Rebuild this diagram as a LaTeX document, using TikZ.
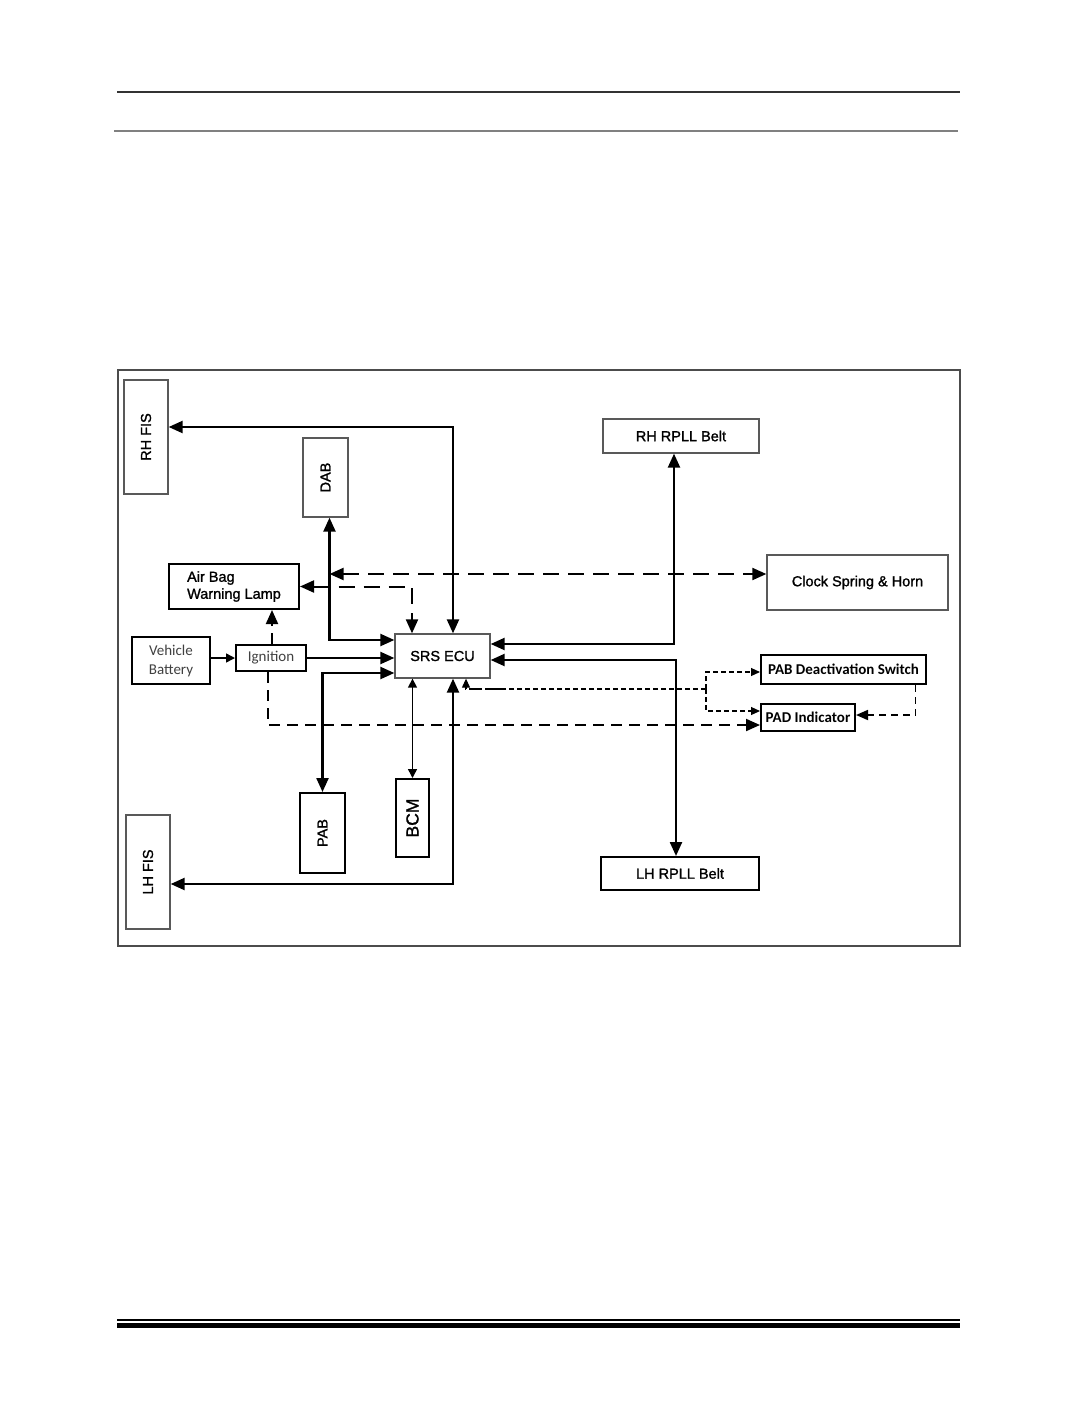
\documentclass[tikz,border=0pt]{standalone}
\usepackage{fontspec}
\setmainfont{Liberation Sans}
\newfontfamily\heavysans{Liberation Sans}[FakeBold=1.3]
\newfontfamily\carlito{Carlito}
\usetikzlibrary{calc}
\usetikzlibrary{arrows.meta}

\begin{document}
\begin{tikzpicture}[x=1pt, y=-1pt,
  box/.style={draw=black!65, line width=1.3pt, inner sep=0pt, font=\heavysans\fontsize{14.5}{17}\selectfont},
  boldbox/.style={box, draw=black, line width=2pt},
  calbox/.style={boldbox, font=\carlito\fontsize{15}{18}\selectfont},
  link/.style={line width=2.3pt, >={Triangle[length=14pt,width=12pt]}},
  thinlink/.style={line width=1.5pt, >={Triangle[length=9pt,width=9pt]}},
  dlink/.style={line width=2pt, dash pattern=on 16pt off 9pt, >={Triangle[length=14pt,width=12pt]}},
  slink/.style={dlink, dash pattern=on 11pt off 7pt},
  fine/.style={line width=1.1pt, dash pattern=on 5pt off 3pt, >={Triangle[length=9pt,width=8pt]}},
  mlink/.style={line width=1.7pt, dash pattern=on 7pt off 5pt, >={Triangle[length=12pt,width=10pt]}}]
  \useasboundingbox (0,0) rectangle (1075,1422);
  % page rules
  \draw[line width=1.2pt, black!80] (117,92) -- (960,92);
  \draw[line width=2.5pt, black!50] (114,131) -- (958,131);
  \draw[line width=1.5pt] (117,1320) -- (960,1320);
  \draw[line width=5pt] (117,1325) -- (960,1325);
  % frame
  \draw[line width=1.2pt, black!70] (118,370) rectangle (960,946);

  % blocks
  \node[box, minimum width=44, minimum height=114] (rhfis) at (146,437) {\rotatebox{90}{RH FIS}};
  \node[box, minimum width=45, minimum height=79] (dab) at (325.5,477.5) {\rotatebox{90}{DAB}};
  \node[boldbox, minimum width=130, minimum height=45, align=left] (abwl) at (234,586.5) {Air Bag\\Warning Lamp};
  \node[box, draw=black, line width=2pt, minimum width=78, minimum height=47, align=center,
    font=\carlito\fontsize{15}{19}\selectfont, text=black!75] (vb) at (171,660.5) {Vehicle\\Battery};
  \node[box, draw=black, line width=2pt, minimum width=70, minimum height=26,
    font=\carlito\fontsize{15}{18}\selectfont, text=black!75] (ign) at (271,658) {Ignition};
  \node[box, minimum width=95, minimum height=44] (ecu) at (442.5,656) {SRS ECU};
  \node[box, minimum width=156, minimum height=34] (rhrpll) at (681,436) {RH RPLL Belt};
  \node[box, minimum width=181, minimum height=55] (clock) at (857.5,582.5) {Clock Spring \& Horn};
  \node[calbox, font=\carlito\bfseries\fontsize{15}{18}\selectfont, minimum width=165, minimum height=29] (pabd) at (843.5,669.5) {PAB Deactivation Switch};
  \node[calbox, font=\carlito\bfseries\fontsize{15}{18}\selectfont, minimum width=94, minimum height=27] (pad) at (808,717.5) {PAD Indicator};
  \node[boldbox, minimum width=45, minimum height=80] (pab) at (322.5,833) {\rotatebox{90}{PAB}};
  \node[boldbox, minimum width=33, minimum height=78, font=\heavysans\fontsize{17.5}{20}\selectfont] (bcm) at (412.5,818) {\rotatebox{90}{BCM}};
  \node[box, minimum width=44, minimum height=114] (lhfis) at (148,872) {\rotatebox{90}{LH FIS}};
  \node[boldbox, minimum width=158, minimum height=33] (lhrpll) at (680,873.5) {LH RPLL Belt};

  % solid links
  \draw[link, <->] ([yshift=10]rhfis.east) -| ([xshift=10.5]ecu.north);
  \draw[link, <->] ([xshift=4]dab.south) |- ([yshift=16]ecu.west);
  \draw[link, ->] (ign.east) -- (ign.east -| ecu.west);
  \draw[link, <->] ([yshift=-17]ecu.west) -| (pab.north);
  \draw[thinlink, ->] (ign.west -| vb.east) -- (ign.west);
  \draw[thinlink, <->] (ecu.south -| bcm.north) -- (bcm.north);
  \draw[link, <->] ([xshift=10.5]ecu.south) |- ([yshift=-12]lhfis.east);
  \draw[link, <->] ([xshift=-7]rhrpll.south) |- ([yshift=12]ecu.east);
  \draw[link, <->] ([yshift=-4]ecu.east) -| ([xshift=-4]lhrpll.north);

  % dashed links
  \coordinate (dabx) at ([xshift=4]dab.south);
  \draw[dlink, <->] (dabx |- 0,574) -- ([yshift=8.5]clock.west);
  \draw[dlink, <->] (abwl.east) -| ([xshift=-30.5]ecu.north);
  \draw[slink, ->] ([xshift=1]ign.north) -- ([xshift=1]ign.north |- abwl.south);
  \draw[slink, ->] ([xshift=-3]ign.south) |- ([yshift=-7.5]pad.west);
  \coordinate (pj) at (706,689);
  \draw[fine, ->] (pj) -| ([xshift=23.5]ecu.south);
  \draw[line width=2.4pt] ([xshift=23.5]ecu.south |- pj) ++(6,0) -- ++(8,0) ++(7,0) -- ++(18,0);
  \draw[fine, ->] (pj) |- ([yshift=-2.5]pabd.west);
  \draw[fine, ->] (pj) |- ([yshift=6.5]pad.west);
  \draw[mlink, ->] ([xshift=72]pabd.south) |- ([yshift=2.5]pad.east);
\end{tikzpicture}
\end{document}
